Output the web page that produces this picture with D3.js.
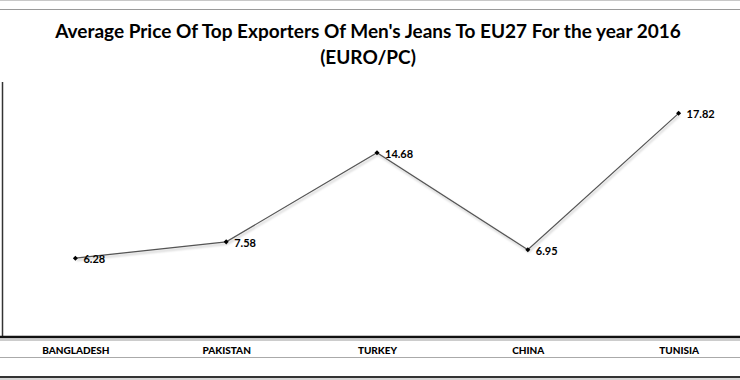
<!DOCTYPE html>
<html>
<head>
<meta charset="utf-8">
<script src="https://cdn.jsdelivr.net/npm/d3@7"></script>
<style>
body { margin: 0; background: #fff; }
text { font-family: Lato, "Noto Sans", sans-serif; }
</style>
</head>
<body>
<script>
var countries = ["BANGLADESH", "PAKISTAN", "TURKEY", "CHINA", "TUNISIA"];
var prices = [6.28, 7.58, 14.68, 6.95, 17.82];
var titleLines = ["Average Price Of Top Exporters Of Men's Jeans To EU27 For the year 2016", "(EURO/PC)"];

var width = 740, height = 380;

var svg = d3.select("body").append("svg")
    .attr("width", width)
    .attr("height", height);

// shadow for the line
var defs = svg.append("defs");
var f = defs.append("filter").attr("id", "shadow").attr("x", "-10%").attr("y", "-10%").attr("width", "120%").attr("height", "130%");
f.append("feDropShadow").attr("dx", 1).attr("dy", 2).attr("stdDeviation", 1).attr("flood-color", "#000").attr("flood-opacity", 0.25);

// frame lines at top
svg.append("line").attr("x1", 0).attr("x2", width).attr("y1", 0.5).attr("y2", 0.5).attr("stroke", "#c8c8c8");
svg.append("line").attr("x1", 0).attr("x2", width).attr("y1", 9.5).attr("y2", 9.5).attr("stroke", "#9a9a9a");

// title
svg.selectAll(".title")
    .data(titleLines)
    .enter().append("text")
    .attr("x", 368)
    .attr("y", function (d, i) { return 38 + i * 26; })
    .attr("text-anchor", "middle")
    .style("font-size", "19px")
    .style("font-weight", "bold")
    .attr("fill", "#000")
    .text(function (d) { return d; });

var xScale = d3.scalePoint()
    .domain(countries)
    .range([0, 754])
    .padding(0.5);

var yScale = d3.scaleLinear()
    .domain([0, 20])
    .range([337, 86]);

// left axis line
svg.append("line")
    .attr("x1", 2.5).attr("x2", 2.5)
    .attr("y1", yScale(20) - 4).attr("y2", yScale(0))
    .attr("stroke", "#333").attr("stroke-width", 1.5);

// bottom axis line (thick)
svg.append("line")
    .attr("x1", 0).attr("x2", width)
    .attr("y1", yScale(0)).attr("y2", yScale(0))
    .attr("stroke", "#111").attr("stroke-width", 2.5);
svg.append("line")
    .attr("x1", 0).attr("x2", width)
    .attr("y1", yScale(0) + 3).attr("y2", yScale(0) + 3)
    .attr("stroke", "#bbb").attr("stroke-width", 1.5);

// category labels
var xAxis = d3.axisBottom(xScale).tickSize(0).tickPadding(0);
var gx = svg.append("g")
    .attr("transform", "translate(0,347)")
    .call(xAxis);
gx.select(".domain").remove();
gx.selectAll("text")
    .style("font-family", "Lato, 'Noto Sans', sans-serif")
    .style("font-size", "10px")
    .style("font-weight", "900")
    .attr("fill", "#000");

svg.append("line").attr("x1", 0).attr("x2", width).attr("y1", 357.5).attr("y2", 357.5).attr("stroke", "#aaa");
svg.append("line").attr("x1", 0).attr("x2", width).attr("y1", 377).attr("y2", 377).attr("stroke", "#333").attr("stroke-width", 2);
svg.append("line").attr("x1", 0).attr("x2", width).attr("y1", 379).attr("y2", 379).attr("stroke", "#aaa").attr("stroke-width", 1);

// line
var line = d3.line()
    .x(function (d, i) { return xScale(countries[i]); })
    .y(function (d) { return yScale(d); });

svg.append("path")
    .datum(prices)
    .attr("d", line)
    .attr("fill", "none")
    .attr("stroke", "#555")
    .attr("stroke-width", 1.2)
    .attr("filter", "url(#shadow)");

// markers
svg.selectAll(".pt")
    .data(prices)
    .enter().append("path")
    .attr("transform", function (d, i) { return "translate(" + xScale(countries[i]) + "," + yScale(d) + ")"; })
    .attr("d", d3.symbol().type(d3.symbolDiamond2).size(16))
    .attr("fill", "#000");

// data labels
svg.selectAll(".lbl")
    .data(prices)
    .enter().append("text")
    .attr("x", function (d, i) { return xScale(countries[i]) + 8; })
    .attr("y", function (d) { return yScale(d) + 5; })
    .style("font-size", "11px")
    .style("font-weight", "bold")
    .attr("fill", "#000")
    .text(function (d) { return d.toFixed(2); });
</script>
</body>
</html>
